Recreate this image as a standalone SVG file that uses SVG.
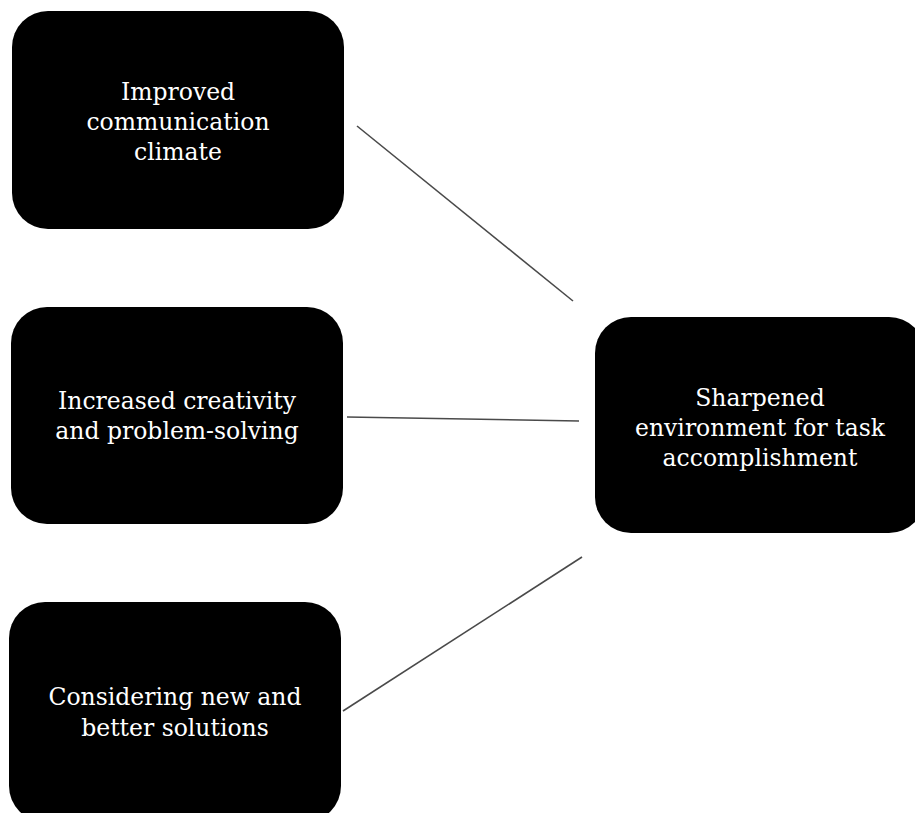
<svg xmlns="http://www.w3.org/2000/svg" width="915" height="813" viewBox="0 0 915 813">
<style>
.box{fill:#000;}
.lbl{fill:#fff;font-family:"DejaVu Serif","Liberation Serif",serif;font-size:23.5px;text-anchor:middle;}
.conn{stroke:#4a4a4a;stroke-width:1.6;fill:none;}
</style>
<rect width="915" height="813" fill="#fff"/>
<g id="connectors">
<line class="conn" x1="357" y1="126" x2="573" y2="301"/>
<line class="conn" x1="347" y1="417" x2="579" y2="421"/>
<line class="conn" x1="343" y1="711" x2="582" y2="557"/>
</g>
<g id="node-communication">
<rect class="box" x="12" y="11" width="332" height="218" rx="36" ry="36"/>
<text class="lbl" x="178" y="99.5">Improved</text>
<text class="lbl" x="178" y="129.5">communication</text>
<text class="lbl" x="178" y="159.5">climate</text>
</g>
<g id="node-creativity">
<rect class="box" x="11" y="307" width="332" height="217" rx="36" ry="36"/>
<text class="lbl" x="177" y="409">Increased creativity</text>
<text class="lbl" x="177" y="438.5">and problem-solving</text>
</g>
<g id="node-solutions">
<rect class="box" x="9" y="602" width="332" height="220" rx="36" ry="36"/>
<text class="lbl" x="175" y="705">Considering new and</text>
<text class="lbl" x="175" y="735.5">better solutions</text>
</g>
<g id="node-sharpened">
<rect class="box" x="595" y="317" width="330" height="216" rx="36" ry="36"/>
<text class="lbl" x="760" y="406">Sharpened</text>
<text class="lbl" x="760" y="436">environment for task</text>
<text class="lbl" x="760" y="466">accomplishment</text>
</g>
</svg>
